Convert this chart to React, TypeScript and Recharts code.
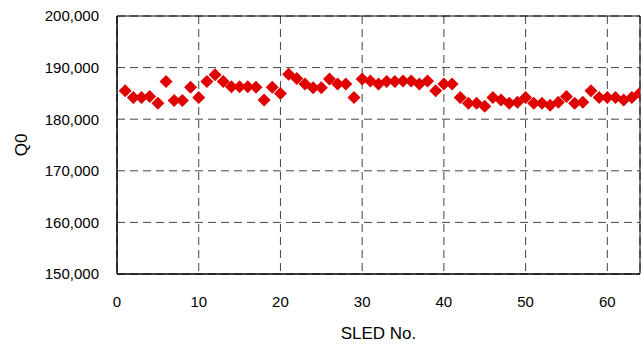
import { ScatterChart, Scatter, XAxis, YAxis, CartesianGrid, ReferenceLine, Label } from "recharts";

// SLED number and measured Q0
const sledNo = [
  1, 2, 3, 4, 5, 6, 7, 8, 9, 10, 11, 12, 13, 14, 15, 16,
  17, 18, 19, 20, 21, 22, 23, 24, 25, 26, 27, 28, 29, 30, 31, 32,
  33, 34, 35, 36, 37, 38, 39, 40, 41, 42, 43, 44, 45, 46, 47, 48,
  49, 50, 51, 52, 53, 54, 55, 56, 57, 58, 59, 60, 61, 62, 63, 64,
];
const q0 = [
  185500, 184200, 184200, 184400, 183100, 187300, 183600, 183600, 186200, 184200, 187300, 188600, 187300, 186300, 186300, 186300,
  186200, 183700, 186200, 185000, 188700, 187900, 186800, 186100, 186100, 187800, 186800, 186800, 184200, 187800, 187400, 186800,
  187300, 187300, 187400, 187400, 186800, 187400, 185500, 186800, 186800, 184200, 183100, 183100, 182500, 184200, 183700, 183100,
  183300, 184200, 183100, 183100, 182700, 183300, 184400, 183100, 183300, 185500, 184200, 184200, 184200, 183700, 184200, 185100,
];
const xTicks = [0, 10, 20, 30, 40, 50, 60];
const yTicks = [150000, 160000, 170000, 180000, 190000, 200000];

const points = sledNo.map((n, i) => ({ x: n, y: q0[i] }));

const FONT = "'Liberation Sans', Arial, sans-serif";

const Diamond = (props: any) => {
  const { cx, cy } = props;
  const r = 6.5;
  return <polygon points={`${cx},${cy - r} ${cx + r},${cy} ${cx},${cy + r} ${cx - r},${cy}`} fill="#e00000" />;
};

export default function App() {
  const tick = { fill: "#000", fontSize: 15, fontFamily: FONT };
  return (
    <div style={{ position: "absolute", left: 0, top: 0, width: 642, height: 344, background: "#fff" }}>
      <ScatterChart width={642} height={344} margin={{ top: 16, right: 2, bottom: 40, left: 0 }}>
        <CartesianGrid stroke="#444" strokeDasharray="8 5" />
        <XAxis
          type="number"
          dataKey="x"
          domain={[0, 64]}
          ticks={xTicks}
          allowDataOverflow
          height={30}
          tick={tick}
          tickLine={false}
          tickSize={0}
          tickMargin={22}
          axisLine={{ stroke: "#000", strokeWidth: 1.5 }}
        >
          <Label
            content={(p: any) => {
              const vb = p.viewBox;
              return (
                <text x={vb.x + vb.width / 2} y={333} textAnchor="middle" dominantBaseline="central" fontSize={17} fontFamily={FONT} fill="#000">
                  SLED No.
                </text>
              );
            }}
          />
        </XAxis>
        <YAxis
          type="number"
          dataKey="y"
          domain={[150000, 200000]}
          ticks={yTicks}
          width={117}
          tick={tick}
          tickLine={false}
          tickSize={0}
          tickMargin={18}
          tickFormatter={(v: number) => v.toLocaleString("en-US")}
          axisLine={{ stroke: "#000", strokeWidth: 1.5 }}
        >
          <Label
            content={(p: any) => {
              const vb = p.viewBox;
              const cy = vb.y + vb.height / 2;
              return (
                <text x={21} y={cy} transform={`rotate(-90 21 ${cy})`} textAnchor="middle" dominantBaseline="central" fontSize={17} fontFamily={FONT} fill="#000">
                  Q0
                </text>
              );
            }}
          />
        </YAxis>
        <ReferenceLine y={200000} stroke="#000" />
        <ReferenceLine x={64} stroke="#000" />
        <Scatter data={points} shape={<Diamond />} isAnimationActive={false} />
      </ScatterChart>
    </div>
  );
}
